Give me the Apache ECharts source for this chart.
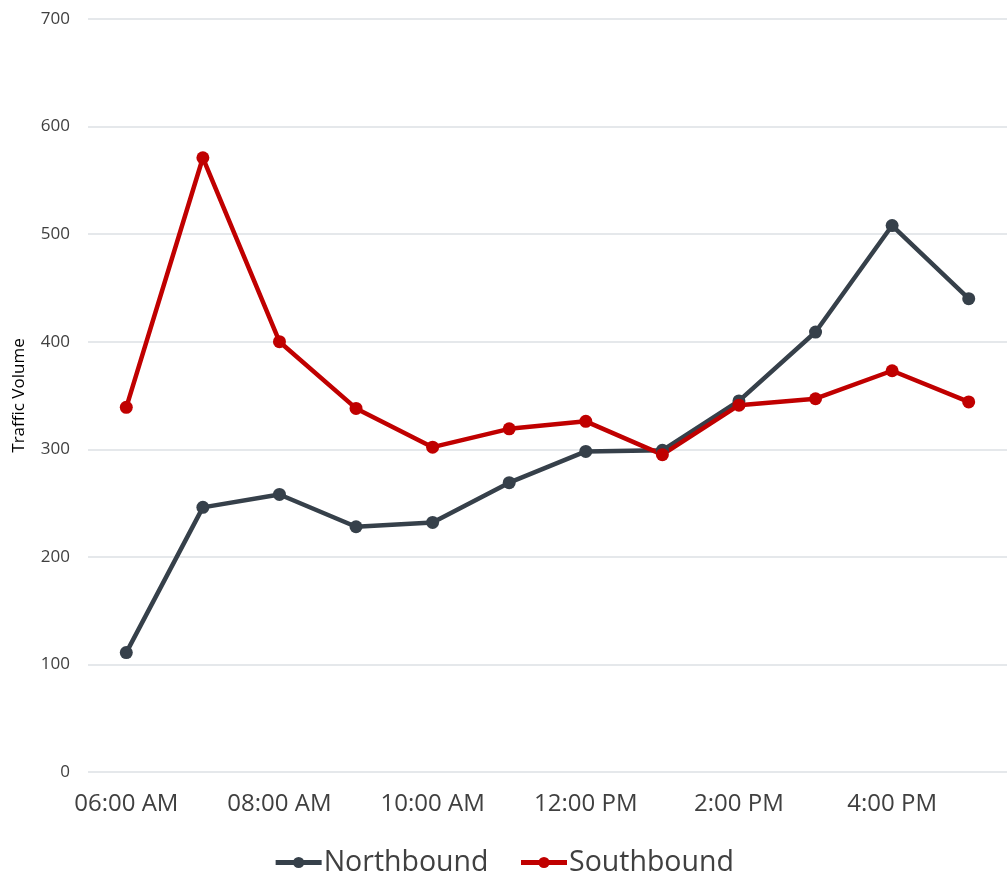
<!DOCTYPE html>
<html>
<head>
<meta charset="utf-8">
<script src="https://cdn.jsdelivr.net/npm/echarts@6/dist/echarts.min.js"></script>
<style>
  html, body { margin: 0; padding: 0; background: #fff; }
  #chart { width: 1007px; height: 876px; }
</style>
</head>
<body>
<div id="chart"></div>
<script>
// Hourly traffic counts by direction
const hours = ["06:00 AM", "07:00 AM", "08:00 AM", "09:00 AM", "10:00 AM", "11:00 AM",
               "12:00 PM", "1:00 PM", "2:00 PM", "3:00 PM", "4:00 PM", "5:00 PM"];
const northbound = [111, 246, 258, 228, 232, 269, 298, 299, 345, 409, 508, 440];
const southbound = [339, 571, 400, 338, 302, 319, 326, 295, 341, 347, 373, 344];
const seriesNames = ["Northbound", "Southbound"];

const font = "'Open Sans', 'Noto Sans', sans-serif";
const textColor = "#404040";

const chart = echarts.init(document.getElementById("chart"), null, { renderer: "canvas" });

function lineSeries(name, data, color) {
  return {
    name: name,
    type: "line",
    data: data,
    symbol: "circle",
    symbolSize: 13,
    showSymbol: true,
    lineStyle: { color: color, width: 4.5 },
    itemStyle: { color: color },
    emphasis: { disabled: true },
    animation: false
  };
}

chart.setOption({
  animation: false,
  grid: { left: 88, right: 0, top: 19, bottom: 104, containLabel: false },
  legend: {
    data: seriesNames,
    top: 843,
    left: "center",
    itemWidth: 46,
    itemHeight: 14,
    itemGap: 30,
    lineStyle: { width: 5 },
    textStyle: { fontFamily: font, fontSize: 28.5, color: textColor, padding: [0, 0, 0, -3] }
  },
  xAxis: {
    type: "category",
    data: hours,
    boundaryGap: true,
    axisLine: { show: false },
    axisTick: { show: false },
    axisLabel: {
      interval: 1,
      margin: 20,
      fontFamily: font,
      fontSize: 24,
      color: textColor
    }
  },
  yAxis: {
    type: "value",
    min: 0,
    max: 700,
    interval: 100,
    name: "Traffic Volume",
    nameLocation: "middle",
    nameGap: 60,
    nameRotate: 90,
    nameTextStyle: { fontFamily: font, fontSize: 17, color: "#000" },
    axisLine: { show: false },
    axisTick: { show: false },
    axisLabel: { margin: 18, fontFamily: font, fontSize: 17, color: textColor },
    splitLine: { lineStyle: { color: "#DCE0E5", width: 1.5 } }
  },
  series: [
    lineSeries(seriesNames[0], northbound, "#36404A"),
    lineSeries(seriesNames[1], southbound, "#C00000")
  ]
});
</script>
</body>
</html>
